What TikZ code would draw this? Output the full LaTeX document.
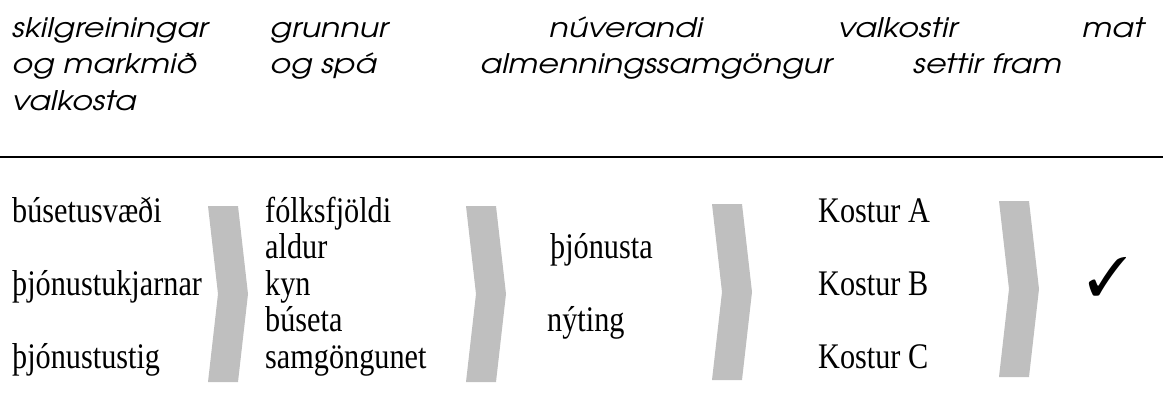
\documentclass[tikz,border=0pt]{standalone}
\usepackage{fontspec}
\usepackage{pifont}
\setmainfont{Liberation Serif}[FakeStretch=0.84]
\newfontfamily\headfont{TeX Gyre Adventor}[FakeStretch=1.175]
\definecolor{chevgray}{RGB}{191,191,191}
\begin{document}
\begin{tikzpicture}[x=1pt,y=-1pt,
  headtxt/.style={anchor=base west, inner sep=0pt,
    font=\headfont\itshape\fontsize{27}{31}\selectfont},
  bodytxt/.style={anchor=base west, inner sep=0pt,
    font=\fontsize{36}{37}\selectfont},
  chevron/.pic={\fill[chevgray] (0,0) -- (30,0) -- (40,88) -- (30,176)
    -- (0,176) -- (10,88) -- cycle;}]
\useasboundingbox (0,0) rectangle (1163,408);

% column headings
\node[headtxt] (h11) at (12,37)   {skilgreiningar};
\node[headtxt] (h12) at (270,37)  {grunnur};
\node[headtxt] (h13) at (549,37)  {núverandi};
\node[headtxt] (h14) at (838,37)  {valkostir};
\node[headtxt] (h15) at (1082,37) {mat};
\node[headtxt] (h21) at (12,73)   {og markmið};
\node[headtxt] (h22) at (270,73)  {og spá};
\node[headtxt] (h23) at (480,73)  {almenningssamgöngur};
\node[headtxt] (h24) at (913,73)  {settir fram};
\node[headtxt] (h31) at (12,110)  {valkosta};

% separating rule
\coordinate (ruleL) at (0,157);
\coordinate (ruleR) at (1163,157);
\draw[line width=2.2pt] (ruleL) -- (ruleR);

% step chevrons
\pic at (208,206) {chevron};
\pic at (466,206) {chevron};
\pic at (712,204) {chevron};
\pic at (999,201) {chevron};

% stage 1
\node[bodytxt] (b11) at (12,222) {búsetusvæði};
\node[bodytxt] (b12) at (12,295) {þjónustukjarnar};
\node[bodytxt] (b13) at (12,368) {þjónustustig};

% stage 2
\node[bodytxt] (b21) at (265,222)   {fólksfjöldi};
\node[bodytxt] (b22) at (265,258.5) {aldur};
\node[bodytxt] (b23) at (265,295)   {kyn};
\node[bodytxt] (b24) at (265,331.5) {búseta};
\node[bodytxt] (b25) at (265,368)   {samgöngunet};

% stage 3
\node[bodytxt] (b31) at (550,258.5) {þjónusta};
\node[bodytxt] (b32) at (547,331.5) {nýting};

% stage 4
\node[bodytxt] (b41) at (818,222) {Kostur A};
\node[bodytxt] (b42) at (818,295) {Kostur B};
\node[bodytxt] (b43) at (818,368) {Kostur C};

% stage 5
\node[inner sep=0pt] (b51) at (1108,277) {\fontsize{54}{54}\selectfont\ding{51}};
\end{tikzpicture}
\end{document}
